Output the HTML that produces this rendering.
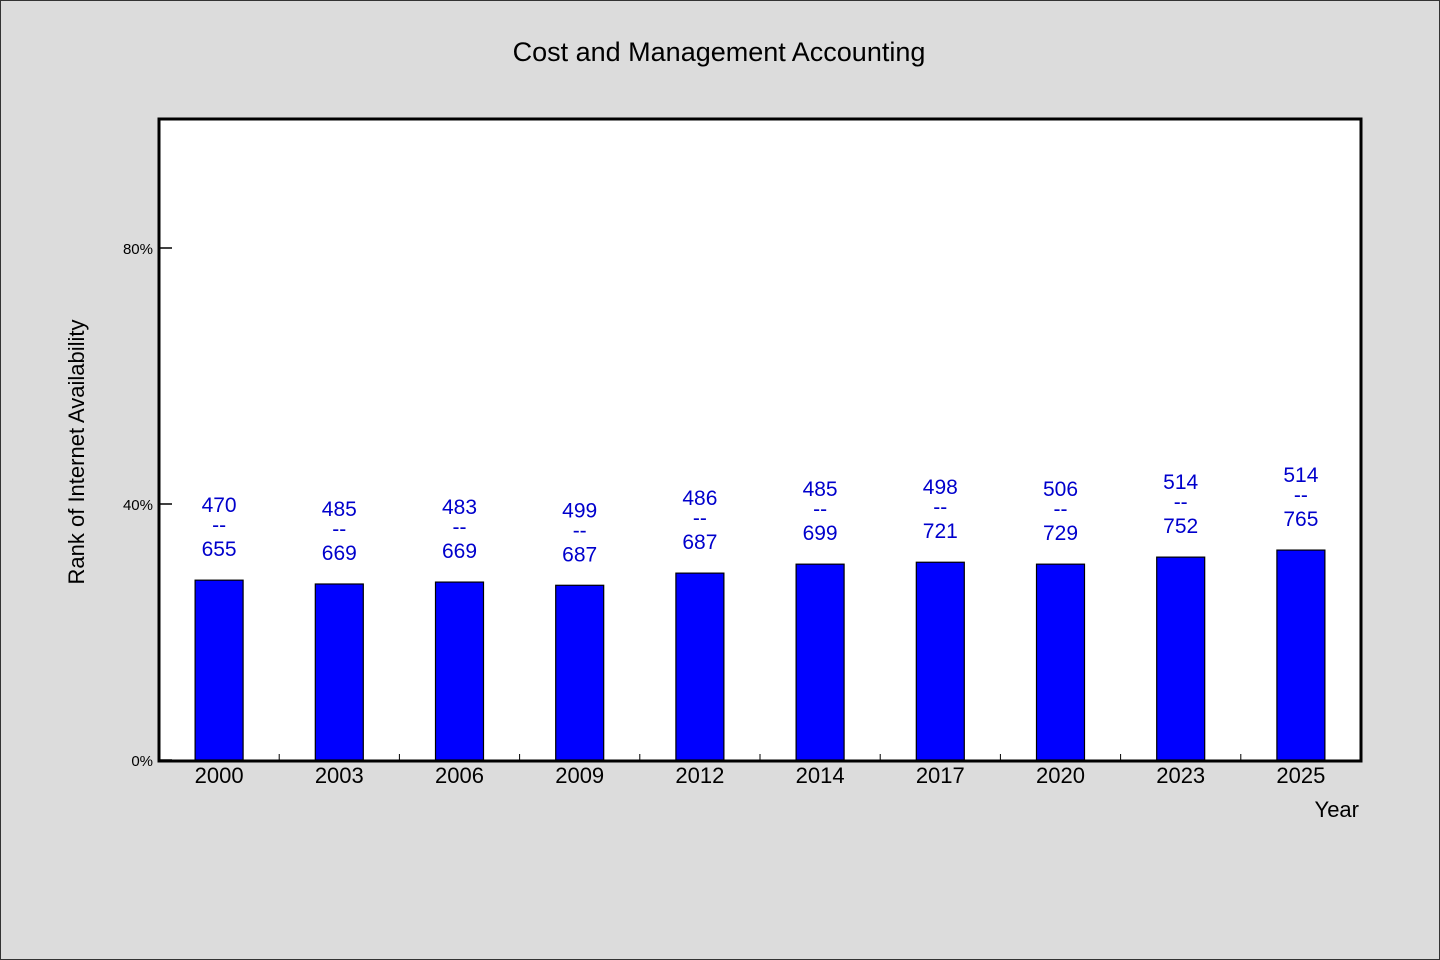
<!DOCTYPE html>
<html><head><meta charset="utf-8"><style>
html,body{margin:0;padding:0;background:#dcdcdc;}
svg{display:block;font-family:"WenQuanYi Zen Hei","Liberation Sans",sans-serif;}
</style></head><body>
<svg id="chart" width="1440" height="960" xmlns="http://www.w3.org/2000/svg">
<rect x="0.5" y="0.5" width="1439" height="959" fill="#dcdcdc" stroke="#333"/>
<text x="719" y="61" text-anchor="middle" font-size="27" fill="#000">Cost and Management Accounting</text>
<rect x="159" y="119" width="1202" height="642" fill="#fff"/>
<g id="bars"></g>
<rect x="159" y="119" width="1202" height="642" fill="none" stroke="#000" stroke-width="3"/>
<text transform="translate(84,452) rotate(-90)" text-anchor="middle" font-size="22" fill="#000">Rank of Internet Availability</text>
<text x="1359" y="817" text-anchor="end" font-size="22" fill="#000">Year</text>
</svg>
<script>
const categories=["2000","2003","2006","2009","2012","2014","2017","2020","2023","2025"];
const values=[28.1,27.5,27.8,27.3,29.2,30.6,30.9,30.6,31.7,32.8];
const topLabels=["470","485","483","499","486","485","498","506","514","514"];
const bottomLabels=["655","669","669","687","687","699","721","729","752","765"];
const yTicks=[0,40,80];
const yTickLabels=["0%","40%","80%"];
const NS="http://www.w3.org/2000/svg";
const svg=document.getElementById('chart');
const g=document.getElementById('bars');
const x0=159,x1=1361,yBase=760;
const band=(x1-x0)/categories.length;
function xc(i){return x0+band*(i+0.5);}
function y(v){return yBase-v*6.4;}
function mk(tag,attrs,parent){const e=document.createElementNS(NS,tag);for(const k in attrs)e.setAttribute(k,attrs[k]);(parent||svg).appendChild(e);return e;}
yTicks.forEach((t,i)=>{
  const l=mk('line',{x1:x0,x2:x0+13,y1:y(t),y2:y(t),stroke:'#000','stroke-width':1.5});
  
  
  const tx=mk('text',{x:x0-6,y:y(t)+6,'text-anchor':'end','font-size':15,fill:'#000'});
  tx.textContent=yTickLabels[i];
  
  
});
categories.forEach((c,i)=>{
  const cx=xc(i),top=y(values[i]);
  const r=mk('rect',{x:cx-24,y:top,width:48,height:yBase-top,fill:'#0000ff',stroke:'#000','stroke-width':1.2},g);
  
  
  if(i>0){const t=mk('line',{x1:x0+band*i,x2:x0+band*i,y1:yBase-6,y2:yBase,stroke:'#000','stroke-width':1});
  
  }
  const xl=mk('text',{x:cx,y:783,'text-anchor':'middle','font-size':22,fill:'#000'});
  xl.textContent=c;
  
  
  const a=mk('text',{x:cx,y:top-68,'text-anchor':'middle','font-size':21,fill:'#0000cc'});
  a.textContent=topLabels[i];
  
  
  const d=mk('text',{x:cx,y:top-48,'text-anchor':'middle','font-size':21,fill:'#0000cc'});
  d.textContent='--';
  
  
  const b=mk('text',{x:cx,y:top-24,'text-anchor':'middle','font-size':21,fill:'#0000cc'});
  b.textContent=bottomLabels[i];
  
  
});
</script>
</body></html>
